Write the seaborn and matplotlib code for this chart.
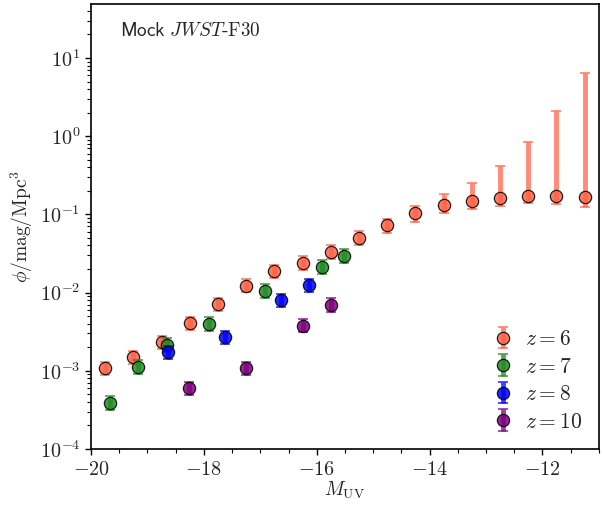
import numpy as np
import pandas as pd
import matplotlib
matplotlib.use("Agg")
import matplotlib.pyplot as plt
from matplotlib.ticker import MultipleLocator, LogLocator, NullFormatter, FuncFormatter
from matplotlib.lines import Line2D
from matplotlib.legend_handler import HandlerTuple
import seaborn as sns

# UV luminosity function, mock JWST survey (F30)
# z = 6
muv_z6 = [-19.75, -19.25, -18.75, -18.25, -17.75, -17.25, -16.75, -16.25, -15.75,
          -15.25, -14.75, -14.25, -13.75, -13.25, -12.75, -12.25, -11.75, -11.25]
phi_z6 = [1.07e-3, 1.48e-3, 2.31e-3, 4.03e-3, 7.05e-3, 1.23e-2, 1.86e-2, 2.39e-2, 3.31e-2,
          5.0e-2, 7.25e-2, 0.103, 0.131, 0.148, 0.160, 0.170, 0.172, 0.166]
lo_z6 = [1.9e-4, 2.6e-4, 4.1e-4, 7.2e-4, 1.25e-3, 2.2e-3, 3.3e-3, 4.2e-3, 5.9e-3,
         8.9e-3, 1.45e-2, 2.2e-2, 2.6e-2, 3.2e-2, 3.2e-2, 3.2e-2, 3.8e-2, 4.2e-2]
hi_z6 = [2.3e-4, 3.2e-4, 5.0e-4, 8.7e-4, 1.5e-3, 2.7e-3, 4.0e-3, 5.2e-3, 7.2e-3,
         1.08e-2, 1.55e-2, 2.6e-2, 4.9e-2, 0.103, 0.250, 0.662, 1.94, 6.29]

# z = 7
muv_z7 = [-19.66, -19.17, -18.66, -17.91, -16.91, -15.91, -15.52]
phi_z7 = [3.86e-4, 1.12e-3, 2.13e-3, 3.98e-3, 1.05e-2, 2.13e-2, 2.94e-2]
lo_z7 = [6.9e-5, 2.0e-4, 3.8e-4, 7.1e-4, 1.9e-3, 3.8e-3, 5.2e-3]
hi_z7 = [8.3e-5, 2.4e-4, 4.6e-4, 8.6e-4, 2.3e-3, 4.6e-3, 6.4e-3]

# z = 8
muv_z8 = [-18.64, -17.63, -16.64, -16.13]
phi_z8 = [1.72e-3, 2.67e-3, 7.93e-3, 1.24e-2]
lo_z8 = [3.1e-4, 4.8e-4, 1.4e-3, 2.2e-3]
hi_z8 = [3.7e-4, 5.8e-4, 1.7e-3, 2.7e-3]

# z = 10
muv_z10 = [-18.26, -17.26, -16.25, -15.75]
phi_z10 = [5.96e-4, 1.08e-3, 3.76e-3, 6.97e-3]
lo_z10 = [1.1e-4, 1.9e-4, 6.7e-4, 1.25e-3]
hi_z10 = [1.3e-4, 2.3e-4, 8.1e-4, 1.5e-3]

redshifts = ["6", "7", "8", "10"]
colors = ["tomato", "forestgreen", "blue", "purple"]

sns.set_style("ticks")
plt.rcParams["mathtext.fontset"] = "cm"
plt.rcParams["font.family"] = ["DejaVu Sans"]

frames = []
series = [(muv_z6, phi_z6, lo_z6, hi_z6), (muv_z7, phi_z7, lo_z7, hi_z7),
          (muv_z8, phi_z8, lo_z8, hi_z8), (muv_z10, phi_z10, lo_z10, hi_z10)]
for z, (m, p, lo, hi) in zip(redshifts, series):
    frames.append(pd.DataFrame({"muv": m, "phi": p, "lo": lo, "hi": hi, "z": z}))
df = pd.concat(frames, ignore_index=True)

fig = plt.figure(figsize=(6.03, 5.05), dpi=100)
ax = fig.add_axes([0.151, 0.111, 0.842, 0.881])

handles = []
for i, (z, c) in enumerate(zip(redshifts, colors)):
    d = df[df["z"] == z]
    eb = ax.errorbar(d["muv"], d["phi"], yerr=[d["lo"], d["hi"]], fmt="none",
                     ecolor=c, elinewidth=3.5, capsize=3.6, capthick=1.3,
                     alpha=0.75, zorder=2 + 2 * i)
    sns.scatterplot(data=d, x="muv", y="phi", color=c, s=78, edgecolor="black",
                    linewidth=0.9, alpha=0.85, ax=ax, zorder=3 + 2 * i, legend=False)
    mk = Line2D([], [], ls="none", marker="o", markersize=8.8, markerfacecolor=c,
                markeredgecolor="black", markeredgewidth=0.9, alpha=0.85)
    handles.append((eb, mk))

ax.set_yscale("log")
ax.set_xlim(-20, -11)
ax.set_ylim(1e-4, 49)

ax.xaxis.set_major_locator(MultipleLocator(2))
ax.xaxis.set_minor_locator(MultipleLocator(0.5))
ax.yaxis.set_major_locator(LogLocator(base=10, numticks=20))
ax.yaxis.set_minor_locator(LogLocator(base=10, subs=np.arange(2, 10), numticks=100))
ax.yaxis.set_minor_formatter(NullFormatter())
ax.xaxis.set_major_formatter(FuncFormatter(lambda v, p: rf"${v:.0f}$"))
ax.yaxis.set_major_formatter(FuncFormatter(lambda v, p: rf"$10^{{{int(round(np.log10(v)))}}}$"))

ax.tick_params(which="major", direction="out", length=4.3, width=1.0, labelsize=14.5,
               color="black")
ax.tick_params(which="minor", direction="out", length=2.6, width=0.8, color="black")
for s in ax.spines.values():
    s.set_linewidth(1.2)
    s.set_color("black")

ax.set_xlabel(r"$M_\mathrm{UV}$", fontsize=14, labelpad=1)
ax.set_ylabel(r"$\phi/\mathrm{mag}/\mathrm{Mpc}^3$", fontsize=14, labelpad=3)

ax.text(0.057, 0.94, r"$\mathsf{Mock}\ JWST\text{-F30}$", transform=ax.transAxes,
        fontsize=13.8, ha="left", va="center")

ax.legend(handles, [rf"$z={z}$" for z in redshifts], loc="lower right",
          frameon=False, fontsize=15.5, handler_map={tuple: HandlerTuple(ndivide=1)},
          handlelength=1.0, handletextpad=0.5, labelspacing=0.35,
          bbox_to_anchor=(1.005, -0.005))

ax.set_facecolor("white")
fig.savefig("out.png", dpi=100, facecolor="white")
